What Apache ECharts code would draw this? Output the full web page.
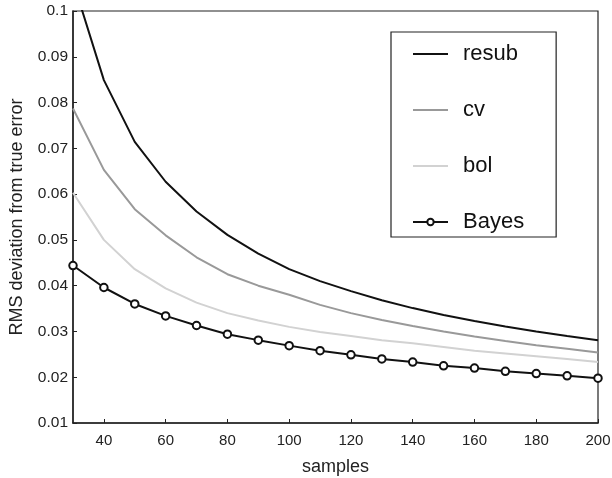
<!DOCTYPE html>
<html><head><meta charset="utf-8">
<script src="https://cdn.jsdelivr.net/npm/echarts@6/dist/echarts.min.js"></script>
<style>html,body{margin:0;padding:0;background:#fff}#c{width:612px;height:478px}</style>
</head><body><div id="c"></div>
<script>
const samples = [30,40,50,60,70,80,90,100,110,120,130,140,150,160,170,180,190,200];
const resub = [0.1065,0.0849,0.0714,0.0627,0.0562,0.0511,0.0470,0.0436,0.0410,0.0388,0.0368,0.0351,0.0336,0.0323,0.0311,0.0300,0.0290,0.0281];
const cv    = [0.0787,0.0653,0.0567,0.0510,0.0462,0.0425,0.0400,0.0380,0.0358,0.0340,0.0325,0.0312,0.0300,0.0289,0.0279,0.0270,0.0262,0.0254];
const bol   = [0.0603,0.0500,0.0436,0.0394,0.0363,0.0340,0.0324,0.0310,0.0299,0.0290,0.0281,0.0274,0.0266,0.0258,0.0252,0.0246,0.0240,0.0233];
const bayes = [0.0444,0.0396,0.0360,0.0334,0.0313,0.0294,0.0281,0.0269,0.0258,0.0249,0.0240,0.0233,0.0225,0.0220,0.0213,0.0208,0.0203,0.0198];
const xTicks = [40,60,80,100,120,140,160,180,200];
const names = ['resub','cv','bol','Bayes'];
const colors = ['#111111','#999999','#d2d2d2','#111111'];
const pair = arr => samples.map((s,i)=>[s,arr[i]]);
const font = 'Liberation Sans, Arial, sans-serif';
const chart = echarts.init(document.getElementById('c'));
const lineSeries = (name, arr, color, withSym) => ({
  name, type:'line', data: pair(arr), color,
  lineStyle:{color, width:2},
  symbol: withSym ? 'emptyCircle' : 'none',
  symbolSize: 7.5, showSymbol: withSym,
  itemStyle:{color:color, borderColor:color, borderWidth:2},
  clip:true, animation:false
});
chart.setOption({
  animation:false,
  textStyle:{fontFamily:font},
  grid:{left:73, top:11, right:14, bottom:55, outerBoundsMode:'none', containLabel:false,
    show:true, borderColor:'#222', borderWidth:1.2},
  xAxis:{type:'value', min:30, max:200, name:'samples', nameLocation:'middle', nameGap:35,
    nameTextStyle:{fontSize:18, color:'#222', fontFamily:font},
    axisLine:{lineStyle:{color:'#222', width:1.5}},
    axisTick:{inside:true, length:4, customValues:xTicks, lineStyle:{color:'#222'}},
    axisLabel:{customValues:xTicks, fontSize:15, color:'#222', margin:10, fontFamily:font},
    splitLine:{show:false}},
  yAxis:{type:'value', min:0.01, max:0.1, interval:0.01, name:'RMS deviation from true error', nameLocation:'middle', nameGap:47,
    nameTextStyle:{fontSize:18, color:'#222', fontFamily:font},
    axisLine:{show:true, lineStyle:{color:'#222', width:1.5}},
    axisTick:{show:true, inside:true, length:4, lineStyle:{color:'#222'}},
    axisLabel:{fontSize:15.5, color:'#222', margin:5, fontFamily:font},
    splitLine:{show:false}},
  legend:{orient:'vertical', left:391, top:32,
    data: names.map((n,i)=> i<3 ? {name:n, itemStyle:{opacity:0}} : {name:n}),
    itemWidth:35, itemHeight:8, itemGap:34,
    padding:[11,32,4,21], borderColor:'#222', borderWidth:1.2, backgroundColor:'#fff',
    textStyle:{fontSize:22, color:'#111', fontFamily:font, padding:[0,0,0,10]}},
  series:[
    lineSeries(names[0], resub, colors[0], false),
    lineSeries(names[1], cv, colors[1], false),
    lineSeries(names[2], bol, colors[2], false),
    lineSeries(names[3], bayes, colors[3], true)
  ]
});
</script></body></html>
